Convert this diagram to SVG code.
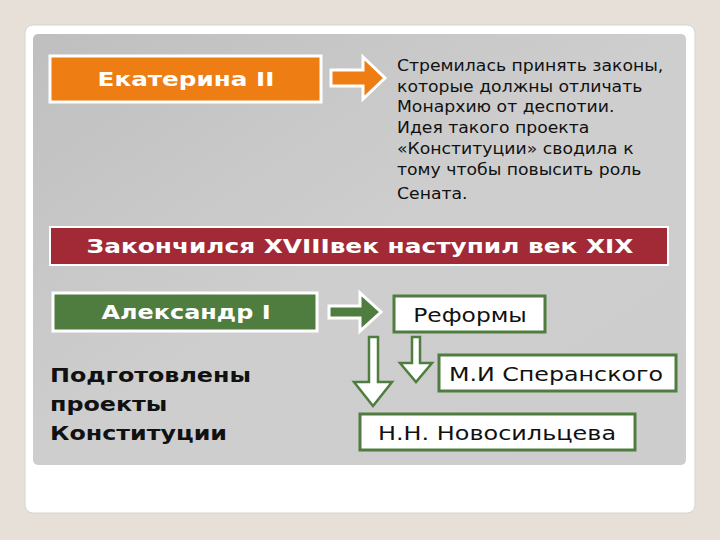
<svg xmlns="http://www.w3.org/2000/svg" width="720" height="540" viewBox="0 0 720 540">
<defs>
<linearGradient id="pg" x1="0" y1="0" x2="1" y2="1"><stop offset="0" stop-color="#bfbfbf"/><stop offset="0.5" stop-color="#cecece"/><stop offset="1" stop-color="#cdcdcd"/></linearGradient>
<style>
.t{font-family:"DejaVu Sans",Verdana,sans-serif}
.b{font-weight:bold}
.gb{fill:#fff;stroke:#4e7d3f;stroke-width:3}
.ar{stroke:#fff;stroke-width:3;stroke-linejoin:miter}
</style>
</defs>
<rect width="720" height="540" fill="#e6e0d8"/>
<rect x="25" y="25" width="670" height="488" rx="8" fill="#fff" stroke="#d8d4cc"/>
<rect x="33" y="34" width="653" height="431" rx="5" fill="url(#pg)"/>
<g id="ekaterina"><rect x="50" y="56" width="271" height="46" fill="#ee7d14" stroke="#fff" stroke-width="3"/>
<text class="t b" x="186" y="86" font-size="19" fill="#fff" text-anchor="middle" transform="translate(186,0) scale(1.3,1) translate(-186,0)">Екатерина II</text></g>
<g id="desc"><text class="t" font-size="15" fill="#111" transform="translate(397,0) scale(1.15,1) translate(-397,0)">
<tspan x="397" y="71">Стремилась принять законы,</tspan>
<tspan x="397" y="92">которые должны отличать</tspan>
<tspan x="397" y="112">Монархию от деспотии.</tspan>
<tspan x="397" y="133">Идея такого проекта</tspan>
<tspan x="397" y="154">«Конституции» сводила к</tspan>
<tspan x="397" y="175">тому чтобы повысить роль</tspan>
<tspan x="397" y="199">Сената.</tspan></text></g>
<g id="banner"><rect x="50" y="227" width="618" height="38" fill="#a12a36" stroke="#fff" stroke-width="2"/>
<text class="t b" x="360" y="253" font-size="20" fill="#fff" text-anchor="middle" transform="translate(360,0) scale(1.24,1) translate(-360,0)">Закончился XVIIIвек наступил век XIX</text></g>
<g id="alexander"><rect x="53" y="293" width="264" height="38" fill="#4e7d3f" stroke="#fff" stroke-width="3"/>
<text class="t b" x="186" y="319" font-size="19" fill="#fff" text-anchor="middle" transform="translate(186,0) scale(1.26,1) translate(-186,0)">Александр I</text></g>
<g id="projects"><text class="t b" font-size="20" fill="#111" transform="translate(50,0) scale(1.19,1) translate(-50,0)">
<tspan x="50" y="382">Подготовлены</tspan><tspan x="50" y="411">проекты</tspan><tspan x="50" y="440">Конституции</tspan></text></g>
<g id="reforms"><rect class="gb" x="394" y="296" width="151" height="36"/>
<text class="t" x="470" y="322" font-size="19" fill="#111" text-anchor="middle" transform="translate(470,0) scale(1.23,1) translate(-470,0)">Реформы</text></g>
<g id="speransky"><rect class="gb" x="439" y="355" width="237" height="36"/>
<text class="t" x="556" y="381" font-size="19" fill="#111" text-anchor="middle" transform="translate(556,0) scale(1.25,1) translate(-556,0)">М.И Сперанского</text></g>
<g id="novosiltsev"><rect class="gb" x="360" y="414" width="275" height="36"/>
<text class="t" x="497" y="440" font-size="19" fill="#111" text-anchor="middle" transform="translate(497,0) scale(1.26,1) translate(-497,0)">Н.Н. Новосильцева</text></g>
<g id="connectors">
<path class="ar" fill="#ee7d14" d="M331,70 H363 V57 L385,78 L363,99 V86 H331 Z"/>
<path class="ar" fill="#4e7d3f" d="M329,306 H360 V293 L381,312 L360,331 V318 H329 Z"/>
<path fill="#fff" stroke="#4e7d3f" stroke-width="2.5" d="M412,337 H420 V363 H432 L416,382 L400,363 H412 Z"/>
<path fill="#fff" stroke="#4e7d3f" stroke-width="2.5" d="M369,337 H378 V382 H392 L373,406 L354,382 H369 Z"/>
</g>
</svg>
